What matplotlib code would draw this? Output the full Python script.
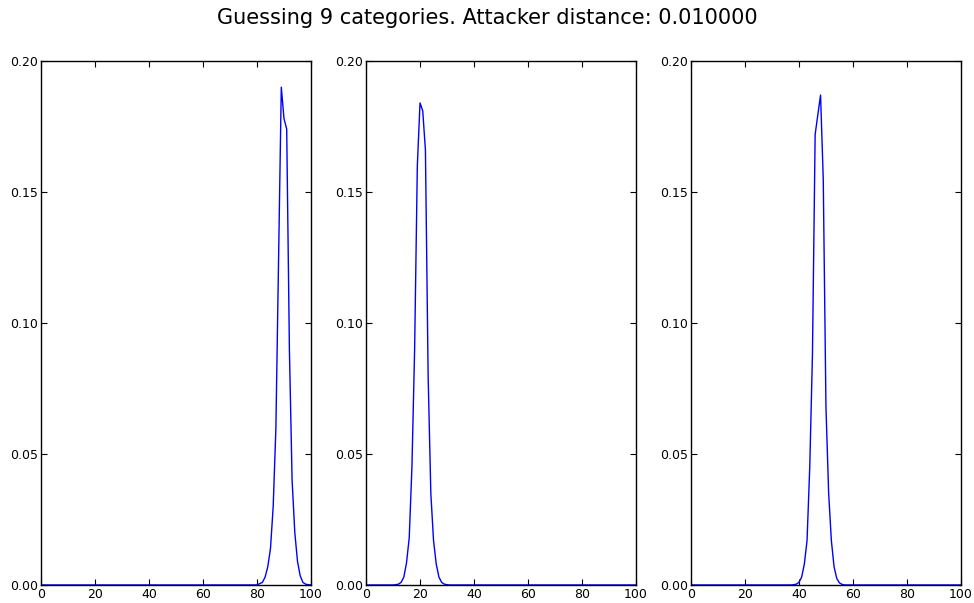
import numpy as np
import matplotlib
matplotlib.use("Agg")
import matplotlib.pyplot as plt

# ---------- data ----------
x = np.arange(101)

# panel 1: peak near 89
p1_idx = [80, 81, 82, 83, 84, 85, 86, 87, 88, 89, 90, 91, 92, 93, 94, 95, 96, 97, 98, 99]
p1_val = [0.0, 0.0005, 0.001, 0.003, 0.007, 0.014, 0.03, 0.06, 0.125, 0.19,
          0.178, 0.174, 0.09, 0.04, 0.02, 0.009, 0.0035, 0.001, 0.0003, 0.0001]

# panel 2: peak near 20
p2_idx = [11, 12, 13, 14, 15, 16, 17, 18, 19, 20, 21, 22, 23, 24, 25, 26, 27, 28, 29, 30]
p2_val = [0.0001, 0.0003, 0.001, 0.003, 0.0085, 0.018, 0.045, 0.09, 0.16, 0.184,
          0.181, 0.166, 0.08, 0.035, 0.017, 0.008, 0.003, 0.001, 0.0003, 0.0001]

# panel 3: peak near 48
p3_idx = [38, 39, 40, 41, 42, 43, 44, 45, 46, 47, 48, 49, 50, 51, 52, 53, 54, 55, 56, 57]
p3_val = [0.0001, 0.0003, 0.001, 0.003, 0.008, 0.017, 0.045, 0.088, 0.172, 0.1795,
          0.187, 0.155, 0.068, 0.035, 0.017, 0.007, 0.0025, 0.0008, 0.0002, 0.0]

title = "Guessing 9 categories. Attacker distance: 0.010000"
yticks = [0.00, 0.05, 0.10, 0.15, 0.20]
xticks = [0, 20, 40, 60, 80, 100]

def series(idx, val):
    y = np.zeros(len(x))
    y[idx] = val
    return y

panels = [series(p1_idx, p1_val), series(p2_idx, p2_val), series(p3_idx, p3_val)]

plt.rcParams["font.family"] = "DejaVu Sans"
fig = plt.figure(figsize=(9.74, 6.03), dpi=100)
fig.text(0.5, 0.97, title, ha="center", va="center", fontsize=15)

lefts = [0.0421, 0.3758, 0.7094]
w, b, h = 0.2772, 0.0299, 0.8689
for l, y in zip(lefts, panels):
    ax = fig.add_axes([l, b, w, h])
    ax.plot(x, y, color="#0000ff", lw=1)
    ax.set_xlim(0, 100); ax.set_ylim(0, 0.2)
    ax.set_xticks(xticks); ax.set_yticks(yticks)
    ax.set_yticklabels([f"{t:.2f}" for t in yticks])
    ax.tick_params(direction="in", top=True, right=True, length=4, width=0.8,
                   labelsize=9, pad=2)
    for sp in ax.spines.values():
        sp.set_linewidth(1); sp.set_color("black")

fig.savefig("out.png", dpi=100, facecolor="white")
